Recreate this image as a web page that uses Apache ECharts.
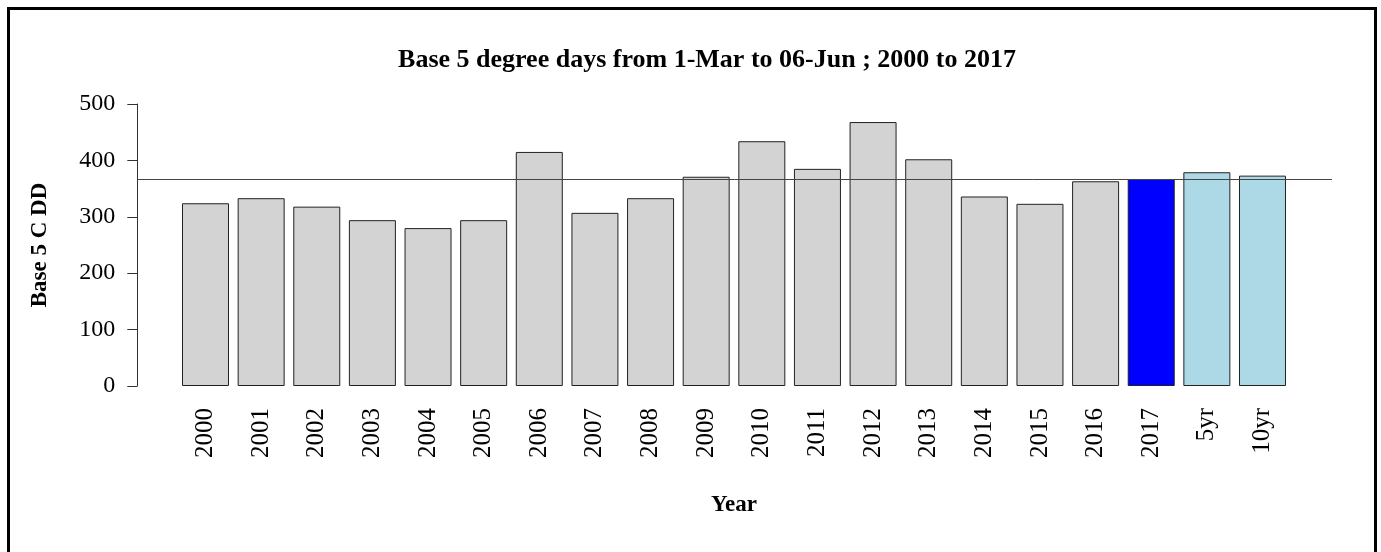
<!DOCTYPE html>
<html>
<head>
<meta charset="utf-8">
<script src="https://cdn.jsdelivr.net/npm/echarts@6/dist/echarts.min.js"></script>
<style>
  html, body { margin: 0; padding: 0; background: #fff; }
  #wrap { position: relative; width: 1381px; height: 552px; overflow: hidden; }
  #chart { position: absolute; left: 0; top: 0; width: 1381px; height: 552px; }
  #frame { position: absolute; left: 7px; top: 7px; width: 1364px; height: 560px;
           border: 3px solid #000; pointer-events: none; }
</style>
</head>
<body>
<div id="wrap">
  <div id="chart"></div>
  <div id="frame"></div>
</div>
<script>
// Degree-day totals (base 5 C), 1-Mar to 06-Jun
const categories = ['2000','2001','2002','2003','2004','2005','2006','2007','2008','2009',
                    '2010','2011','2012','2013','2014','2015','2016','2017','5yr','10yr'];
const values = [324, 333, 318, 294, 280, 294, 415, 307, 333, 371,
                434, 385, 468, 402, 336, 323, 363, 367, 379, 373];
const currentYear = '2017';
const yTicks = [0, 100, 200, 300, 400, 500];

const serif = '"Liberation Serif", "DejaVu Serif", serif';
const currentValue = values[categories.indexOf(currentYear)];

function barColor(cat) {
  if (cat === currentYear) return '#0000ff';
  if (cat === '5yr' || cat === '10yr') return '#add8e6';
  return '#d3d3d3';
}

const chart = echarts.init(document.getElementById('chart'), null, { renderer: 'canvas' });

chart.setOption({
  animation: false,
  backgroundColor: '#ffffff',
  title: {
    text: 'Base 5 degree days from 1-Mar to 06-Jun ; 2000 to 2017',
    left: 702, top: 42, textAlign: 'center',
    textStyle: { fontFamily: serif, fontWeight: 'bold', fontSize: 26, color: '#000' }
  },
  grid: [
    { left: 177.7, right: 90.7, top: 104, bottom: 166 },
    { left: 137.3, right: 49, top: 104, bottom: 166 }
  ],
  xAxis: [
    {
      type: 'category', gridIndex: 0, data: categories,
      axisLine: { show: false }, axisTick: { show: false },
      axisLabel: { rotate: 90, margin: 22, fontFamily: serif, fontSize: 25, color: '#000' },
      name: 'Year', nameLocation: 'middle', nameGap: 108,
      nameTextStyle: { fontFamily: serif, fontWeight: 'bold', fontSize: 23, color: '#000' }
    },
    { type: 'value', gridIndex: 1, min: 0, max: 1, show: false }
  ],
  yAxis: [
    {
      type: 'value', gridIndex: 0, min: yTicks[0], max: yTicks[yTicks.length - 1], interval: 100,
      offset: 40.4,
      axisLine: { show: true, lineStyle: { color: '#333', width: 1 } },
      axisTick: { show: true, length: 10, lineStyle: { color: '#333', width: 1 } },
      splitLine: { show: false },
      axisLabel: { margin: 22, fontFamily: serif, fontSize: 24, color: '#000' },
      name: 'Base 5 C DD', nameLocation: 'middle', nameRotate: 90, nameGap: 86,
      nameTextStyle: { fontFamily: serif, fontWeight: 'bold', fontSize: 23, color: '#000' }
    },
    { type: 'value', gridIndex: 1, min: 0, max: 500, show: false }
  ],
  series: [
    {
      type: 'bar', xAxisIndex: 0, yAxisIndex: 0, barWidth: 47,
      data: categories.map((c, i) => ({
        value: values[i],
        itemStyle: { color: barColor(c), borderColor: '#222', borderWidth: 1 }
      }))
    },
    {
      // reference line at the current year's total, across the full plot region
      type: 'line', xAxisIndex: 1, yAxisIndex: 1, data: [],
      markLine: {
        silent: true, symbol: 'none', label: { show: false },
        lineStyle: { color: '#444', width: 1, type: 'solid' },
        data: [{ yAxis: currentValue }]
      }
    }
  ]
});
</script>
</body>
</html>
